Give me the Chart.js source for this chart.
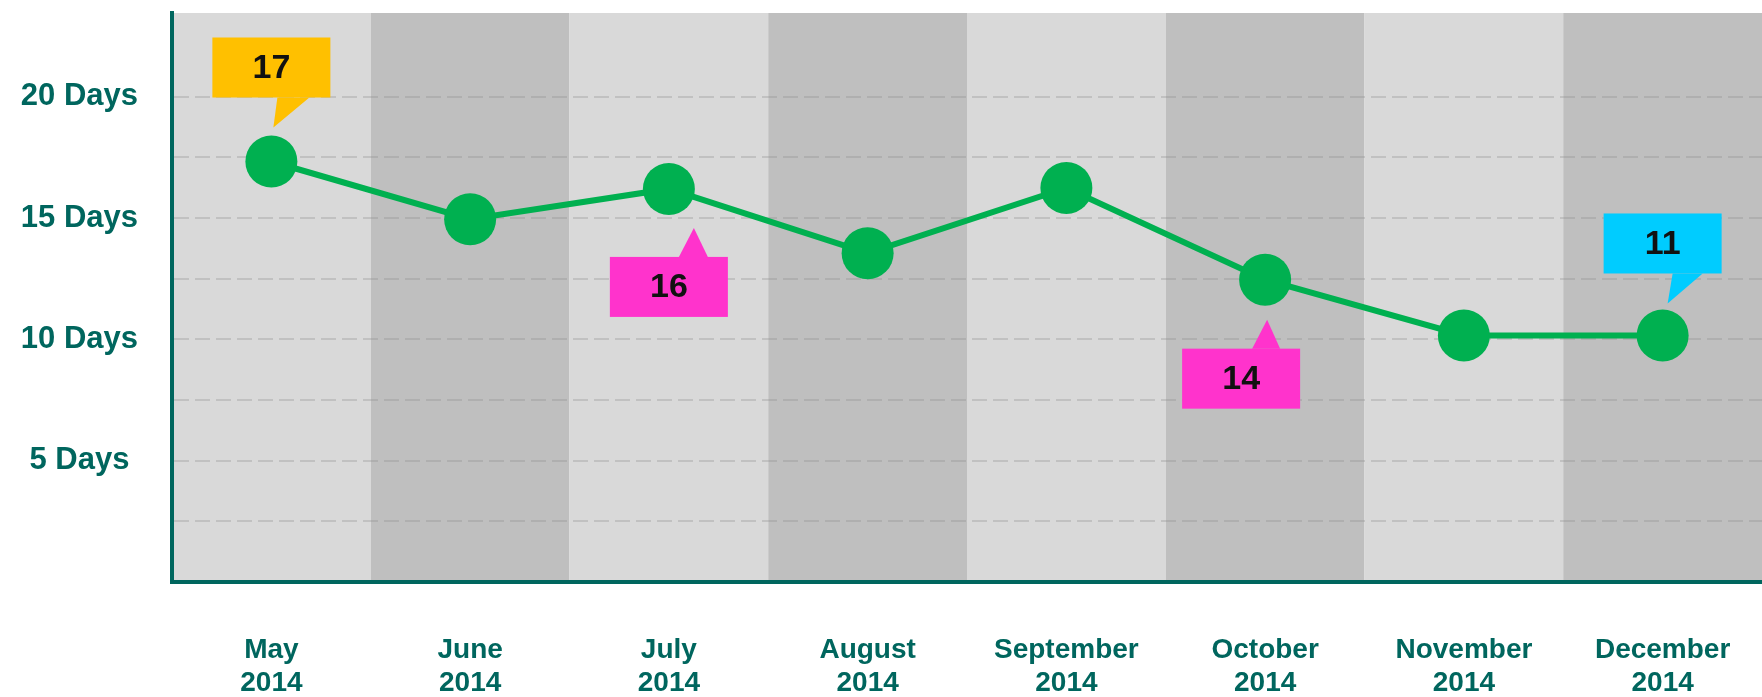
<!DOCTYPE html>
<html>
<head>
<meta charset="utf-8">
<script src="https://cdn.jsdelivr.net/npm/chart.js@4.4.1/dist/chart.umd.min.js"></script>
<style>
  html, body { margin: 0; padding: 0; background: #fff; }
  #wrap { width: 1762px; height: 697px; }
</style>
</head>
<body>
<div id="wrap"><canvas id="daysChart" width="1762" height="697"></canvas></div>
<script>
// data
const months = ['May', 'June', 'July', 'August', 'September', 'October', 'November', 'December'];
const year = '2014';
const days = [17.33, 14.95, 16.2, 13.55, 16.24, 12.46, 10.16, 10.16];
const calloutText = ['17', '', '16', '', '', '14', '', '11'];
const yTickValues = [5, 10, 15, 20];

const teal = '#00665e';
const lightBand = '#d9d9d9';
const darkBand = '#bfbfbf';
const font = "'Liberation Sans', Arial, sans-serif";

// callout boxes, placed relative to their point (px)
const calloutLayout = {
    0: { color: '#ffc000', dx: 0, top: -124, tail: [6, 38, 2, -34] },
    2: { color: '#ff33cc', dx: 0, top: 68, tail: [10, 39, 25, 39] },
    5: { color: '#ff33cc', dx: -24, top: 69, tail: [-13, 15, 2, 40] },
    7: { color: '#00ccff', dx: 0, top: -122, tail: [10, 40, 5, -32] }
};

const bandPlugin = {
    id: 'bands',
    beforeDraw(chart) {
        const { ctx, chartArea: a, scales: { x } } = chart;
        const step = x.getPixelForValue(1) - x.getPixelForValue(0);
        ctx.save();
        months.forEach((m, i) => {
            const cx = x.getPixelForValue(i);
            ctx.fillStyle = i % 2 ? darkBand : lightBand;
            ctx.fillRect(cx - step / 2, a.top, step, a.bottom - a.top);
        });
        ctx.restore();
    }
};

const calloutPlugin = {
    id: 'callouts',
    afterDatasetsDraw(chart) {
        const ctx = chart.ctx;
        const meta = chart.getDatasetMeta(0);
        ctx.save();
        calloutText.forEach((t, i) => {
            if (!t) return;
            const p = meta.data[i];
            const c = calloutLayout[i];
            const w = 118, h = 60;
            const left = p.x + c.dx - w / 2;
            const top = p.y + c.top;
            const baseY = c.top < 0 ? top + h : top;
            ctx.fillStyle = c.color;
            ctx.fillRect(left, top, w, h);
            ctx.beginPath();
            ctx.moveTo(p.x + c.tail[0], baseY);
            ctx.lineTo(p.x + c.tail[1], baseY);
            ctx.lineTo(p.x + c.tail[2], p.y + c.tail[3]);
            ctx.closePath();
            ctx.fill();
            ctx.fillStyle = '#111';
            ctx.font = 'bold 34px ' + font;
            ctx.textAlign = 'center';
            ctx.textBaseline = 'middle';
            ctx.fillText(t, left + w / 2, top + h / 2 + 1);
        });
        ctx.restore();
    }
};

const data = {
    labels: months.map(m => [m, year]),
    datasets: [{
        label: 'Days',
        data: days,
        borderColor: '#00b050',
        backgroundColor: '#00b050',
        borderWidth: 6,
        pointRadius: 26,
        pointHoverRadius: 26,
        pointBorderWidth: 0,
        pointBackgroundColor: '#00b050',
        tension: 0,
        fill: false
    }]
};

const config = {
    type: 'line',
    data: data,
    options: {
        responsive: false,
        animation: false,
        layout: { autoPadding: false, padding: { top: 13, right: 0, bottom: 0, left: 0 } },
        plugins: {
            legend: { display: false },
            tooltip: { enabled: false }
        },
        scales: {
            x: {
                offset: true,
                grid: { display: false, drawTicks: false },
                border: { display: true, color: teal, width: 4 },
                ticks: {
                    color: teal,
                    font: { family: font, size: 28, weight: 'bold', lineHeight: 1.17 },
                    maxRotation: 0,
                    autoSkip: false,
                    padding: 52
                },
                afterFit: function (scale) {
                    scale.height = 115;
                    scale.paddingLeft = 0;
                    scale.paddingRight = 0;
                }
            },
            y: {
                min: 0,
                max: 23.45,
                grid: { color: 'rgba(140,140,140,0.3)', lineWidth: 2, drawTicks: false },
                border: { display: true, color: teal, width: 4, dash: [15, 6] },
                ticks: {
                    stepSize: 2.5,
                    color: teal,
                    crossAlign: 'center',
                    padding: 34,
                    font: { family: font, size: 31, weight: 'bold' },
                    callback: function (value) {
                        return yTickValues.includes(value) ? value + ' Days' : '';
                    }
                },
                afterBuildTicks: function (scale) {
                    scale.ticks = scale.ticks.filter(t => Math.abs(t.value / 2.5 - Math.round(t.value / 2.5)) < 1e-6);
                },
                afterFit: function (scale) {
                    scale.width = 172;
                    scale.paddingTop = 0;
                    scale.paddingBottom = 0;
                }
            }
        }
    },
    plugins: [bandPlugin, calloutPlugin]
};

new Chart(document.getElementById('daysChart').getContext('2d'), config);
</script>
</body>
</html>
